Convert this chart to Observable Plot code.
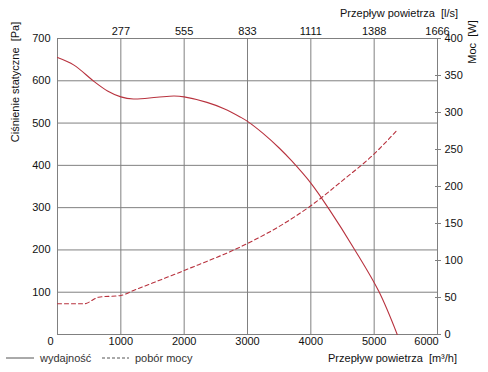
<!DOCTYPE html>
<html><head><meta charset="utf-8">
<script src="https://cdn.jsdelivr.net/npm/d3@7"></script>
<script src="https://cdn.jsdelivr.net/npm/@observablehq/plot@0.6"></script>
<style>
body{margin:0;background:#fff}
svg{font-family:"Liberation Sans",Arial,sans-serif}
</style>
</head><body><div id="chart"></div><script>
// Pressure curve (wydajność) [m³/h] -> [Pa]
const pressureFlow = [0, 260, 580, 790, 1000, 1200, 1570, 1840, 2000, 2360, 2630, 2890, 3000, 3250, 3500, 3695, 4000, 4285, 4695, 5073, 5364];
const pressureVal  = [655, 637, 598, 576, 562, 557, 561, 564, 562, 549, 534, 514, 504, 475, 441, 411, 358, 297, 200, 102, 0];
// Power curve (pobór mocy) [m³/h] -> [W]
const powerFlow = [0, 420, 650, 1000, 1200, 2000, 3000, 3500, 4000, 4500, 5000, 5350];
const powerVal  = [41.5, 41.5, 50.4, 52.7, 59.5, 86.5, 123, 146, 174, 208, 244, 275];
// Axis ticks
const xTicks = [0, 1000, 2000, 3000, 4000, 5000, 6000];
const topLabels = ["277", "555", "833", "1111", "1388", "1666"];
const leftTicks = [100, 200, 300, 400, 500, 600, 700];
const rightTicks = [0, 50, 100, 150, 200, 250, 300, 350, 400];
const legendLabels = ["wydajność", "pobór mocy"];
const titles = {
  top: "Przepływ powietrza  [l/s]",
  bottom: "Przepływ powietrza  [m³/h]",
  left: "Ciśnienie statyczne  [Pa]",
  right: "Moc  [W]"
};

const red = "#b8323e";
const grid = "#808080";
const wScale = 700 / 400; // W -> Pa units on shared y scale

const pData = pressureFlow.map((x, i) => ({x, y: pressureVal[i]}));
const wData = powerFlow.map((x, i) => ({x, y: powerVal[i] * wScale}));

const chart = Plot.plot({
  width: 488, height: 372,
  marginLeft: 57, marginRight: 51, marginTop: 38, marginBottom: 38,
  style: {fontSize: "11px", fontFamily: "'Liberation Sans', Arial, sans-serif", color: "#111"},
  x: {domain: [0, 6000]},
  y: {domain: [0, 700]},
  marks: [
    Plot.gridX(xTicks.slice(1, -1), {stroke: grid, strokeOpacity: 1}),
    Plot.gridY(leftTicks.slice(0, -1), {stroke: grid, strokeOpacity: 1}),
    Plot.frame({stroke: grid}),
    Plot.axisX([0], {tickSize: 0, tickPadding: 3, dx: -7, tickFormat: d => String(d), label: null}),
    Plot.axisX(xTicks.slice(1, -1), {tickSize: 0, tickPadding: 3, tickFormat: d => String(d), label: null}),
    Plot.axisX([6000], {tickSize: 0, tickPadding: 3, dx: -11, tickFormat: d => String(d), label: null}),
    Plot.axisX(xTicks.slice(1), {anchor: "top", tickSize: 0, tickPadding: 4, tickFormat: (d, i) => topLabels[i], label: null}),
    Plot.axisY(leftTicks, {anchor: "left", tickSize: 0, tickPadding: 7, tickFormat: d => String(d), label: null}),
    Plot.axisY(rightTicks.map(d => d * wScale), {anchor: "right", tickSize: 3, tickPadding: 4, stroke: grid, tickFormat: (d, i) => String(rightTicks[i]), label: null}),
    Plot.axisY(rightTicks.map(d => d * wScale), {anchor: "right", tickSize: -3, stroke: grid, tickFormat: () => "", label: null}),
    Plot.line(wData, {x: "x", y: "y", curve: "monotone-x", stroke: red, strokeWidth: 1.1, strokeDasharray: "4,3"}),
    Plot.line(pData, {x: "x", y: "y", curve: "catmull-rom", stroke: red, strokeWidth: 1.1})
  ]
});
document.getElementById("chart").appendChild(chart);

const svg = d3.select(chart);
const font = "'Liberation Sans', Arial, sans-serif";
function txt(x, y, s, anchor, rot) {
  const t = svg.append("text").attr("x", x).attr("y", y).attr("dy", "0.35em")
    .attr("text-anchor", anchor).attr("fill", "#111").style("font-size", "11px")
    .style("font-family", font).style("white-space", "pre").text(s);
  if (rot) t.attr("transform", `rotate(-90 ${x} ${y})`);
  return t;
}
txt(458, 13, titles.top, "end");
txt(457, 358, titles.bottom, "end");
txt(15, 82, titles.left, "middle", true);
txt(472, 42, titles.right, "middle", true);
// legend
svg.append("line").attr("x1", 6).attr("x2", 34).attr("y1", 358).attr("y2", 358).attr("stroke", "#555").attr("stroke-width", 1);
txt(40, 358, legendLabels[0], "start").attr("fill", "#333");
svg.append("line").attr("x1", 102).attr("x2", 129).attr("y1", 358).attr("y2", 358).attr("stroke", "#555").attr("stroke-width", 1).attr("stroke-dasharray", "3,2");
txt(135, 358, legendLabels[1], "start").attr("fill", "#333");
</script></body></html>
